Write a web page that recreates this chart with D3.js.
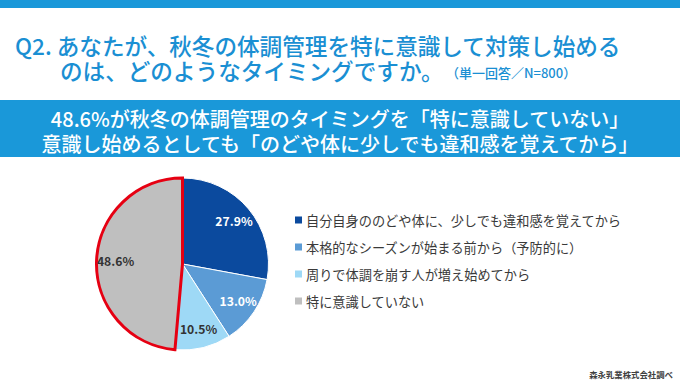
<!DOCTYPE html>
<html><head><meta charset="utf-8">
<script src="https://cdn.jsdelivr.net/npm/d3@7/dist/d3.min.js"></script>
<style>
html,body{margin:0;padding:0;background:#fff;}
svg{display:block;font-family:"Noto Sans CJK JP","Noto Sans",sans-serif;}
</style></head>
<body><svg id="c" width="680" height="383"></svg>
<script>
const categories = ["自分自身ののどや体に、少しでも違和感を覚えてから","本格的なシーズンが始まる前から（予防的に）","周りで体調を崩す人が増え始めてから","特に意識していない"];
const values = [27.9, 13.0, 10.5, 48.6];
const colors = ["#0b4a9e","#5b9bd5","#9ed9f6","#bfbfbf"];
const labelColors = ["#ffffff","#ffffff","#333333","#333333"];
const titleLines = ["Q2. あなたが、秋冬の体調管理を特に意識して対策し始める","のは、どのようなタイミングですか。"];
const subTitle = "（単一回答／N=800）";
const bannerLines = ["48.6%が秋冬の体調管理のタイミングを「特に意識していない」","意識し始めるとしても「のどや体に少しでも違和感を覚えてから」"];
const source = "森永乳業株式会社調べ";
const highlight = 3;

const svg = d3.select("#c");
const blue = "#1a98d9";
svg.append("rect").attr("x",0).attr("y",0).attr("width",680).attr("height",8).attr("fill",blue);

svg.append("text").attr("x",15).attr("y",45).attr("dominant-baseline","central")
  .attr("font-size",22.6).attr("font-weight",500).attr("fill","#1a8fd3").text(titleLines[0]);
svg.append("text").attr("x",60).attr("y",70).attr("dominant-baseline","central")
  .attr("font-size",22.6).attr("font-weight",500).attr("fill","#1a8fd3").text(titleLines[1]);
svg.append("text").attr("x",446).attr("y",72).attr("dominant-baseline","central")
  .attr("font-size",13).attr("font-weight",500).attr("fill","#1a8fd3").text(subTitle);

svg.append("rect").attr("x",0).attr("y",100).attr("width",680).attr("height",57).attr("fill",blue);
bannerLines.forEach((t,i)=>{
  svg.append("text").attr("x",340).attr("y",118+i*25).attr("text-anchor","middle").attr("dominant-baseline","central")
    .attr("font-size",20).attr("font-weight",500).attr("fill","#fff").text(t);
});

const cx=182.5, cy=264, r=86;
const pie = d3.pie().sort(null).value(d=>d);
const arcs = pie(values);
const arc = d3.arc().innerRadius(0).outerRadius(r);
const g = svg.append("g").attr("transform",`translate(${cx},${cy})`);
g.selectAll("path.s").data(arcs).enter().append("path").attr("class","s")
  .attr("d",arc).attr("fill",(d,i)=>colors[i]).attr("stroke","#fff").attr("stroke-width",1);
g.append("path").attr("d",arc(arcs[highlight])).attr("fill",colors[highlight])
  .attr("stroke","#e60012").attr("stroke-width",3).attr("stroke-linejoin","miter");
const larc = d3.arc().innerRadius(67).outerRadius(67);
g.selectAll("text.l").data(arcs).enter().append("text").attr("class","l")
  .attr("transform",d=>`translate(${larc.centroid(d)})`)
  .attr("text-anchor","middle").attr("dominant-baseline","central")
  .attr("font-size",12.2).attr("font-weight",700)
  .attr("fill",(d,i)=>labelColors[i]).text(d=>d.data.toFixed(1)+"%");

const ly = d3.scalePoint().domain(categories).range([220,301]);
const lg = svg.append("g");
categories.forEach((c,i)=>{
  lg.append("rect").attr("x",295).attr("y",ly(c)-3.5).attr("width",7).attr("height",7).attr("fill",colors[i]);
  lg.append("text").attr("x",306).attr("y",ly(c)).attr("dominant-baseline","central")
    .attr("font-size",13.2).attr("fill","#3a3a3a").text(c);
});
svg.append("text").attr("x",673).attr("y",374).attr("text-anchor","end").attr("dominant-baseline","central")
  .attr("font-size",8.4).attr("font-weight",700).attr("fill","#404040").text(source);
</script></body></html>
